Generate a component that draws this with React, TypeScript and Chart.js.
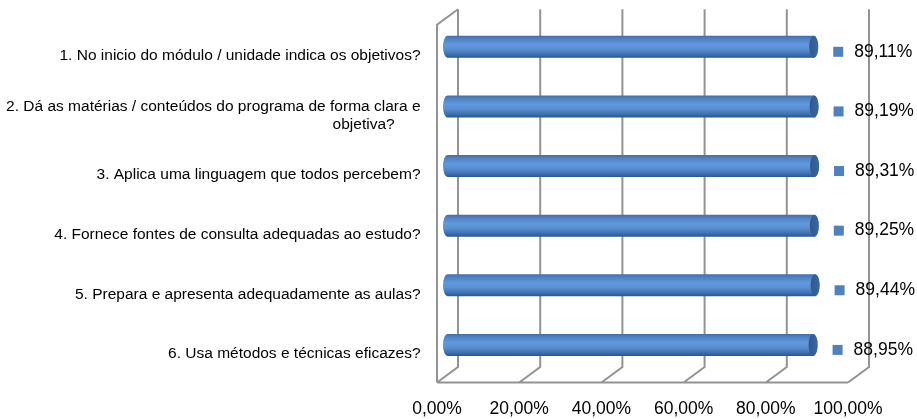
import React, { useEffect, useRef } from 'react';
import { Chart, registerables } from 'chart.js';

Chart.register(...registerables);

const categories: (string | string[])[] = [
  '1. No inicio do módulo / unidade indica os objetivos?',
  ['2. Dá as matérias / conteúdos do programa de forma clara e', 'objetiva?      '],
  '3. Aplica uma linguagem que todos percebem?',
  '4. Fornece fontes de consulta adequadas ao estudo?',
  '5. Prepara e apresenta adequadamente as aulas?',
  '6. Usa métodos e técnicas eficazes?',
];
const values = [89.11, 89.19, 89.31, 89.25, 89.44, 88.95];
const xTickValues = [0, 20, 40, 60, 80, 100];

const FONT = '"Liberation Sans", Arial, sans-serif';
const DX = 10.5;
const DY = 7.75;
const GRID = '#939393';

const fmt = (v: number) => v.toFixed(2).replace('.', ',') + '%';

const wallsPlugin = {
  id: 'walls3d',
  beforeDatasetsDraw(chart: any) {
    const { ctx, chartArea, scales } = chart;
    const { top, bottom } = chartArea;
    const x = scales.x;
    ctx.save();
    ctx.strokeStyle = GRID;
    ctx.lineWidth = 2;
    ctx.beginPath();
    xTickValues.forEach((v) => {
      const px = x.getPixelForValue(v);
      ctx.moveTo(px + DX, top - DY);
      ctx.lineTo(px + DX, bottom - DY);
      ctx.lineTo(px - DX, bottom + DY);
    });
    const p0 = x.getPixelForValue(xTickValues[0]);
    const p1 = x.getPixelForValue(xTickValues[xTickValues.length - 1]);
    ctx.moveTo(p0 - DX, bottom + DY);
    ctx.lineTo(p1 - DX, bottom + DY);
    ctx.moveTo(p0 + DX, top - DY);
    ctx.lineTo(p0 - DX, top + DY);
    ctx.lineTo(p0 - DX, bottom + DY);
    ctx.stroke();
    ctx.restore();
  },
};

const cylinderPlugin = {
  id: 'cylinders',
  afterDatasetsDraw(chart: any) {
    const { ctx } = chart;
    const meta = chart.getDatasetMeta(0);
    ctx.save();
    meta.data.forEach((bar: any, i: number) => {
      const { x: xEnd, y, base, height } = bar.getProps(['x', 'y', 'base', 'height'], true);
      const hh = height / 2;
      const t = y - hh;
      const b = y + hh;
      const rx = 4.5;
      const g = ctx.createLinearGradient(0, t, 0, b);
      g.addColorStop(0, '#416fab');
      g.addColorStop(0.15, '#5182c4');
      g.addColorStop(0.4, '#6099dd');
      g.addColorStop(0.6, '#5a90d3');
      g.addColorStop(0.85, '#3f70ae');
      g.addColorStop(1, '#2b558a');
      ctx.beginPath();
      ctx.moveTo(xEnd, t);
      ctx.lineTo(base, t);
      ctx.ellipse(base, y, rx, hh, 0, -Math.PI / 2, Math.PI / 2, true);
      ctx.lineTo(xEnd, b);
      ctx.ellipse(xEnd, y, rx, hh, 0, Math.PI / 2, -Math.PI / 2, true);
      ctx.closePath();
      ctx.fillStyle = g;
      ctx.fill();
      const fg = ctx.createLinearGradient(xEnd - rx, 0, xEnd + rx, 0);
      fg.addColorStop(0, '#2e5990');
      fg.addColorStop(1, '#3a67a3');
      ctx.beginPath();
      ctx.ellipse(xEnd, y, rx, hh, 0, 0, Math.PI * 2);
      ctx.fillStyle = fg;
      ctx.fill();

      ctx.fillStyle = '#4f81bd';
      ctx.fillRect(xEnd + 19.5, y, 10, 10);
      ctx.fillStyle = '#000';
      ctx.font = `17.5px ${FONT}`;
      ctx.textAlign = 'left';
      ctx.textBaseline = 'middle';
      ctx.fillText(fmt(values[i]), xEnd + 40.5, y + 5);
    });
    ctx.restore();
  },
};

export default function App() {
  const ref = useRef<HTMLCanvasElement>(null);
  useEffect(() => {
    document.body.style.margin = '0';
    const canvas = ref.current!;
    const chart = new Chart(canvas, {
      type: 'bar',
      data: {
        labels: categories as any,
        datasets: [
          {
            data: values,
            backgroundColor: 'rgba(0,0,0,0)',
            borderWidth: 0,
            barThickness: 22,
          },
        ],
      },
      options: {
        responsive: false,
        animation: false,
        indexAxis: 'y',
        devicePixelRatio: 1,
        layout: { padding: { top: 17, right: 58.5, left: 0, bottom: 0 } },
        plugins: { legend: { display: false }, tooltip: { enabled: false } },
        scales: {
          x: {
            min: 0,
            max: 100,
            grid: { display: false, drawTicks: false },
            border: { display: false },
            afterBuildTicks: (s: any) => {
              s.ticks = xTickValues.map((v) => ({ value: v }));
            },
            afterFit: (s: any) => {
              s.height = 44.3;
              s.paddingLeft = 0;
              s.paddingRight = 0;
            },
            ticks: {
              callback: (v: any) => fmt(Number(v)),
              labelOffset: -DX,
              padding: 24,
              color: '#000',
              font: { family: FONT, size: 17.5 },
              maxRotation: 0,
              autoSkip: false,
            },
          },
          y: {
            grid: { display: false, drawTicks: false },
            border: { display: false },
            afterFit: (s: any) => {
              s.width = 447.5;
              s.paddingTop = 0;
              s.paddingBottom = 0;
            },
            ticks: {
              padding: 27,
              labelOffset: 9,
              color: '#000',
              font: { family: FONT, size: 15.5, lineHeight: 1.15 },
              crossAlign: 'near',
              autoSkip: false,
            },
          },
        },
      } as any,
      plugins: [wallsPlugin, cylinderPlugin],
    });
    return () => chart.destroy();
  }, []);
  return (
    <div style={{ width: 917, height: 419 }}>
      <canvas ref={ref} width={917} height={419} />
    </div>
  );
}
